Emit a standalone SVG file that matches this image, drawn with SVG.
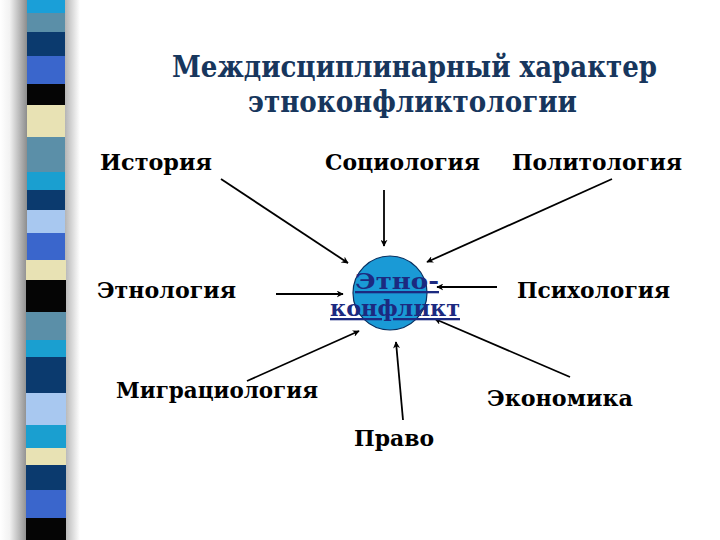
<svg xmlns="http://www.w3.org/2000/svg" width="720" height="540" viewBox="0 0 720 540">
<defs>
<linearGradient id="shadow" x1="0" y1="0" x2="1" y2="0">
<stop offset="0" stop-color="#ffffff"/>
<stop offset="0.12" stop-color="#f2f2f2"/>
<stop offset="0.34" stop-color="#8c8c8c"/>
<stop offset="0.8" stop-color="#b0b0b0"/>
<stop offset="1" stop-color="#ffffff"/>
</linearGradient>
<marker id="ah" viewBox="0 0 10 10" refX="9" refY="5" markerWidth="7" markerHeight="7" orient="auto" markerUnits="userSpaceOnUse">
<path d="M0,0 L10,5 L0,10 L3,5 Z" fill="#000"/>
</marker>
<style>
.lbl{font-family:"DejaVu Serif","Liberation Serif",serif;font-weight:bold;font-size:23px;fill:#000}
.ttl{font-family:"DejaVu Serif","Liberation Serif",serif;font-weight:bold;font-size:29px;fill:#17365d}
.ctr{font-family:"DejaVu Serif","Liberation Serif",serif;font-weight:bold;font-size:23px;fill:#1c2a80;text-decoration:underline}
.arr{stroke:#000;stroke-width:1.8;fill:none;marker-end:url(#ah)}
</style>
</defs>
<rect width="720" height="540" fill="#ffffff"/>
<g id="strip">
<rect x="0" y="0" width="80" height="540" fill="url(#shadow)"/>
<rect x="27" y="0" width="38" height="13" fill="#1a9fd8"/>
<rect x="27" y="13" width="38" height="19" fill="#5b8fa8"/>
<rect x="27" y="32" width="38" height="24" fill="#0b3a6e"/>
<rect x="27" y="56" width="38" height="28" fill="#3a66cc"/>
<rect x="27" y="84" width="38" height="21" fill="#050505"/>
<rect x="27" y="105" width="38" height="32" fill="#e8e2b4"/>
<rect x="27" y="137" width="38" height="35" fill="#5b8fa8"/>
<rect x="27" y="172" width="38" height="18" fill="#1a9fd0"/>
<rect x="27" y="190" width="38" height="20" fill="#0b3a6e"/>
<rect x="27" y="210" width="38" height="23" fill="#a8c8f0"/>
<rect x="27" y="233" width="38" height="27" fill="#3a66cc"/>
<rect x="26" y="260" width="40" height="20" fill="#e8e2b4"/>
<rect x="26" y="280" width="40" height="32" fill="#050505"/>
<rect x="26" y="312" width="40" height="28" fill="#5b8fa8"/>
<rect x="26" y="340" width="40" height="17" fill="#1a9fd0"/>
<rect x="26" y="357" width="40" height="36" fill="#0b3a6e"/>
<rect x="26" y="393" width="40" height="32" fill="#a8c8f0"/>
<rect x="26" y="425" width="40" height="23" fill="#1a9fd0"/>
<rect x="26" y="448" width="40" height="17" fill="#e8e2b4"/>
<rect x="26" y="465" width="40" height="25" fill="#0b3a6e"/>
<rect x="26" y="490" width="40" height="28" fill="#3a66cc"/>
<rect x="26" y="518" width="40" height="22" fill="#050505"/>
</g>
<g id="title">
<text class="ttl" x="172" y="77" textLength="485" lengthAdjust="spacingAndGlyphs">Междисциплинарный характер</text>
<text class="ttl" x="248" y="112" textLength="329" lengthAdjust="spacingAndGlyphs">этноконфликтологии</text>
</g>
<g id="connectors">
<line class="arr" x1="221" y1="179" x2="348" y2="263"/>
<line class="arr" x1="384" y1="190" x2="384" y2="246"/>
<line class="arr" x1="612" y1="179" x2="427" y2="262"/>
<line class="arr" x1="276" y1="294" x2="343" y2="294"/>
<line class="arr" x1="497" y1="287" x2="437" y2="287"/>
<line class="arr" x1="247" y1="381" x2="359" y2="331"/>
<line class="arr" x1="403" y1="420" x2="396" y2="342"/>
<line class="arr" x1="570" y1="377" x2="435" y2="319"/>
</g>
<g id="center">
<circle cx="390" cy="293" r="37" fill="#1a9ad6" stroke="#0a3060" stroke-width="1.2"/>
<text class="ctr" x="397" y="289" text-anchor="middle" textLength="84" lengthAdjust="spacingAndGlyphs">Этно-</text>
<text class="ctr" x="395" y="316" text-anchor="middle" textLength="130" lengthAdjust="spacingAndGlyphs">конфликт</text>
</g>
<g id="n-istoriya"><text class="lbl" x="100" y="170" textLength="112" lengthAdjust="spacingAndGlyphs">История</text></g>
<g id="n-sociologiya"><text class="lbl" x="325" y="170" textLength="155" lengthAdjust="spacingAndGlyphs">Социология</text></g>
<g id="n-politologiya"><text class="lbl" x="512" y="170" textLength="170" lengthAdjust="spacingAndGlyphs">Политология</text></g>
<g id="n-etnologiya"><text class="lbl" x="97" y="298" textLength="139" lengthAdjust="spacingAndGlyphs">Этнология</text></g>
<g id="n-psihologiya"><text class="lbl" x="517" y="298" textLength="153" lengthAdjust="spacingAndGlyphs">Психология</text></g>
<g id="n-migraciologiya"><text class="lbl" x="116" y="398" textLength="202" lengthAdjust="spacingAndGlyphs">Миграциология</text></g>
<g id="n-ekonomika"><text class="lbl" x="487" y="406" textLength="146" lengthAdjust="spacingAndGlyphs">Экономика</text></g>
<g id="n-pravo"><text class="lbl" x="354" y="446" textLength="80" lengthAdjust="spacingAndGlyphs">Право</text></g>
</svg>
